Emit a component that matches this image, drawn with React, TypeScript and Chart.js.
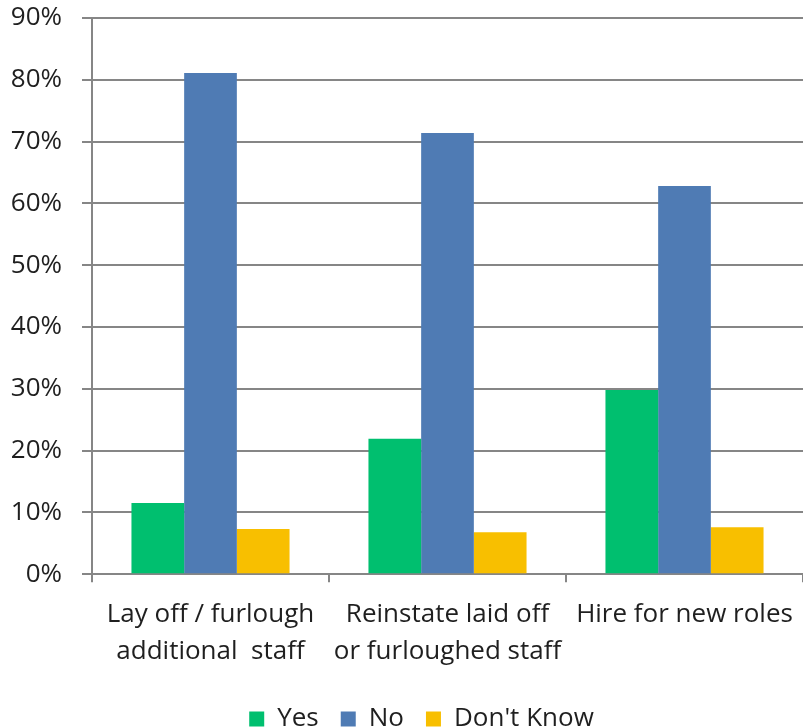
import React, { useEffect, useRef } from "react";
import { Chart, registerables } from "chart.js";

Chart.register(...registerables);

const categories: string[][] = [
  ["Lay off / furlough", "additional  staff"],
  ["Reinstate laid off", "or furloughed staff"],
  ["Hire for new roles"],
];
const yesValues = [11.5, 21.9, 29.8];
const noValues = [81.1, 71.4, 62.8];
const dontKnowValues = [7.3, 6.8, 7.6];
const seriesNames = ["Yes", "No", "Don't Know"];
const seriesColors = ["#00BF6F", "#4F7BB4", "#F8BF00"];

const FONT = "'Open Sans', sans-serif";
const TEXT = "#1F1F1F";
const GRID = "#868686";

// Nudges the bottom legend a little to the right of the canvas centre.
const legendShift = {
  id: "legendShift",
  afterLayout(chart: any) {
    const lg = chart.legend;
    if (lg) {
      lg.left += 20;
      lg.right += 20;
    }
  },
};

export default function App() {
  const ref = useRef<HTMLCanvasElement | null>(null);

  useEffect(() => {
    if (!ref.current) return;
    const chart = new Chart(ref.current, {
      type: "bar",
      data: {
        labels: categories,
        datasets: [yesValues, noValues, dontKnowValues].map((d, i) => ({
          label: seriesNames[i],
          data: d,
          backgroundColor: seriesColors[i],
          borderWidth: 0,
          categoryPercentage: 0.667,
          barPercentage: 1,
        })),
      },
      options: {
        animation: false,
        responsive: true,
        maintainAspectRatio: false,
        layout: { padding: { top: 18, right: 0, left: 0, bottom: -14 } },
        plugins: {
          tooltip: { enabled: false },
          legend: {
            position: "bottom",
            labels: {
              font: { family: FONT, size: 26 },
              color: TEXT,
              boxWidth: 15,
              boxHeight: 15,
              padding: 22,
            },
          },
        },
        scales: {
          x: {
            afterFit: (scale: any) => {
              scale.paddingTop = 0;
              scale.paddingLeft = 0;
              scale.paddingRight = 0;
            },
            grid: {
              display: true,
              drawOnChartArea: false,
              drawTicks: true,
              tickLength: 8,
              color: GRID,
              lineWidth: 2,
              offset: true,
            },
            border: { color: GRID, width: 2 },
            ticks: {
              font: { family: FONT, size: 26, lineHeight: 1.42 },
              color: TEXT,
              padding: 14,
              maxRotation: 0,
              autoSkip: false,
            },
          },
          y: {
            min: 0,
            max: 90,
            afterFit: (scale: any) => {
              scale.width = 92;
              scale.paddingTop = 0;
            },
            grid: {
              color: GRID,
              lineWidth: 2,
              tickLength: 10,
            },
            border: { color: GRID, width: 2 },
            ticks: {
              stepSize: 10,
              font: { family: FONT, size: 26 },
              color: TEXT,
              padding: 20,
              callback: (v: any) => `${v}%`,
            },
          },
        },
      },
      plugins: [legendShift],
    });
    return () => chart.destroy();
  }, []);

  return (
    <div style={{ position: "absolute", left: 0, top: 0, width: 803, height: 728, background: "#fff" }}>
      <canvas ref={ref} />
    </div>
  );
}
